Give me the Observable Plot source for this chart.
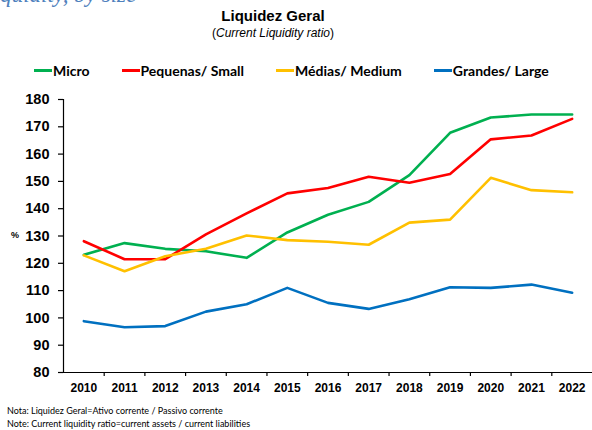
<!DOCTYPE html>
<html>
<head>
<meta charset="utf-8">
<script src="https://cdn.jsdelivr.net/npm/d3@7"></script>
<script src="https://cdn.jsdelivr.net/npm/@observablehq/plot@0.6"></script>
<style>
  html, body { margin: 0; padding: 0; background: #fff; }
  #wrap { position: relative; width: 592px; height: 430px; overflow: hidden; background: #fff; }
  .abs { position: absolute; white-space: nowrap; }
  #heading { left: -19px; top: -18px; font-family: "Liberation Serif", serif; font-style: italic; font-size: 23px; color: #4f81bd; }
  #title { left: 0; width: 546px; top: 7px; text-align: center; font-family: "Liberation Sans", Arial, sans-serif; font-weight: bold; font-size: 15px; color: #000; }
  #subtitle { left: 0; width: 546px; top: 26px; text-align: center; font-family: "Liberation Sans", Arial, sans-serif; font-size: 12px; color: #000; }
  #legend { left: 34px; top: 62px; display: flex; align-items: center; font-family: Lato, sans-serif; font-weight: bold; font-size: 14px; color: #000; }
  .item { display: flex; align-items: center; margin-right: 32px; }
  .sw { width: 18px; height: 2.5px; margin-right: 1px; }
  #pct { left: 11px; top: 230px; font-family: "Liberation Sans", Arial, sans-serif; font-weight: bold; font-size: 9px; }
  #plot { left: 0; top: 85px; }
  #notes { left: 7px; top: 404px; font-family: Lato, sans-serif; font-size: 9px; line-height: 13px; color: #000; }
</style>
</head>
<body>
<div id="wrap">
  <div class="abs" id="heading">Liquidity, by size</div>
  <div class="abs" id="title">Liquidez Geral</div>
  <div class="abs" id="subtitle">(<i>Current Liquidity ratio</i>)</div>
  <div class="abs" id="legend"></div>
  <div class="abs" id="pct">%</div>
  <div class="abs" id="plot"></div>
  <div class="abs" id="notes">Nota: Liquidez Geral=Ativo corrente / Passivo corrente<br>Note: Current liquidity ratio=current assets / current liabilities</div>
</div>
<script>
const years = [2010, 2011, 2012, 2013, 2014, 2015, 2016, 2017, 2018, 2019, 2020, 2021, 2022];
const seriesNames = ["Micro", "Pequenas/ Small", "Médias/ Medium", "Grandes/ Large"];
const seriesColors = ["#00b050", "#ff0000", "#ffc000", "#0070c0"];
const micro    = [123.1, 127.4, 125.3, 124.4, 122.0, 131.3, 137.8, 142.5, 152.3, 167.8, 173.4, 174.5, 174.5];
const pequenas = [128.1, 121.5, 121.5, 130.6, 138.3, 145.6, 147.6, 151.7, 149.5, 152.7, 165.4, 166.8, 172.9];
const medias   = [122.9, 117.1, 122.6, 125.3, 130.2, 128.5, 127.9, 126.8, 134.9, 136.0, 151.3, 146.8, 146.0];
const grandes  = [98.8, 96.6, 97.0, 102.3, 105.0, 111.0, 105.5, 103.3, 106.8, 111.2, 111.0, 112.2, 109.2];
const yTicks = [80, 90, 100, 110, 120, 130, 140, 150, 160, 170, 180];

const allValues = [micro, pequenas, medias, grandes];
const data = [];
allValues.forEach((vals, s) => vals.forEach((v, i) => data.push({year: years[i], value: v, series: seriesNames[s]})));

// legend
const legend = document.getElementById("legend");
seriesNames.forEach((n, i) => {
  const it = document.createElement("div");
  it.className = "item";
  it.innerHTML = `<span class="sw" style="background:${seriesColors[i]}"></span><span>${n}</span>`;
  legend.appendChild(it);
});

const xDomain = [years[0] - 0.5, years[years.length - 1] + 0.5];
const boundaries = years.slice(0, -1).map(y => y + 0.5);

const chart = Plot.plot({
  width: 592,
  height: 310,
  marginLeft: 63,
  marginRight: 0,
  marginTop: 14,
  marginBottom: 23,
  style: {fontFamily: "Liberation Sans, Arial, sans-serif", color: "#000", background: "transparent", overflow: "visible"},
  x: {type: "linear", domain: xDomain},
  y: {domain: [yTicks[0], yTicks[yTicks.length - 1]]},
  color: {domain: seriesNames, range: seriesColors},
  marks: [
    Plot.axisY({ticks: yTicks, tickSize: 5, tickPadding: 9, label: null, fontSize: 14.5, fontWeight: "bold", strokeWidth: 1.2}),
    Plot.axisX({ticks: years, tickSize: 0, tickPadding: 11, tickFormat: d => String(d), label: null, fontSize: 12, fontWeight: "bold"}),
    Plot.axisX({ticks: boundaries, tickSize: 4, tickFormat: () => "", label: null, strokeWidth: 1.2}),
    Plot.ruleX([xDomain[0]], {stroke: "#000", strokeWidth: 1.2}),
    Plot.ruleY([yTicks[0]], {stroke: "#000", strokeWidth: 1.2}),
    Plot.line(data, {x: "year", y: "value", z: "series", stroke: "series", strokeWidth: 2.6, curve: "linear"})
  ]
});
document.getElementById("plot").appendChild(chart);
</script>
</body>
</html>
